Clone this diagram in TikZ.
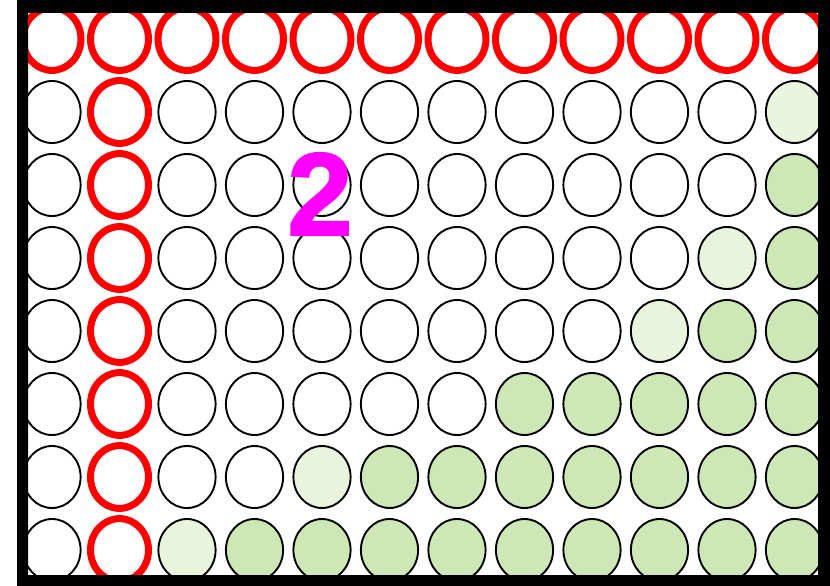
\documentclass[tikz,border=0pt]{standalone}
\usepackage{fontspec}
\newfontfamily\digitfont{Liberation Sans}[BoldFeatures={FakeBold=1.5}]
\definecolor{lgreen}{RGB}{232,244,220}
\definecolor{mgreen}{RGB}{205,232,182}
\definecolor{ringred}{RGB}{255,0,0}
\definecolor{digitmag}{RGB}{255,0,255}
\begin{document}
\begin{tikzpicture}[x=1pt,y=-1pt,
  cell/.style={draw=black,line width=1.9pt,x radius=28.6,y radius=31},
  redcell/.style={draw=ringred,line width=7pt,x radius=29,y radius=31.4},
]
\useasboundingbox (0,0) rectangle (830,586);
\fill[white] (0,0) rectangle (830,586);
\begin{scope}
\clip (28,13) rectangle (818,575);
\foreach \r in {1,...,8}{
  \foreach \c in {1,...,12}{
    \pgfmathsetmacro{\cx}{52+67.5*(\c-1)}
    \pgfmathsetmacro{\cy}{39+73*(\r-1)}
    \def\fillc{white}
    \ifnum\r=2 \ifnum\c=12 \def\fillc{lgreen}\fi\fi
    \ifnum\r=3 \ifnum\c=12 \def\fillc{mgreen}\fi\fi
    \ifnum\r=4 \ifnum\c=11 \def\fillc{lgreen}\fi \ifnum\c=12 \def\fillc{mgreen}\fi\fi
    \ifnum\r=5 \ifnum\c=10 \def\fillc{lgreen}\fi \ifnum\c>10 \def\fillc{mgreen}\fi\fi
    \ifnum\r=6 \ifnum\c>7 \def\fillc{mgreen}\fi\fi
    \ifnum\r=7 \ifnum\c=5 \def\fillc{lgreen}\fi \ifnum\c>5 \def\fillc{mgreen}\fi\fi
    \ifnum\r=8 \ifnum\c=3 \def\fillc{lgreen}\fi \ifnum\c>3 \def\fillc{mgreen}\fi\fi
    \ifnum\r=1
      \path[redcell,fill=white] (\cx,\cy) ellipse [];
    \else\ifnum\c=2
      \path[redcell,fill=white] (\cx,\cy) ellipse [];
    \else
      \path[cell,fill=\fillc] (\cx,\cy) ellipse [];
    \fi\fi
  }
}
\end{scope}
\node[text=digitmag,inner sep=0pt] (two) at (320,194)
  {\digitfont\bfseries\fontsize{118}{118}\selectfont 2};
\fill[black,even odd rule] (17,0) rectangle (830,586) (28,13) rectangle (818,575);
\end{tikzpicture}
\end{document}
